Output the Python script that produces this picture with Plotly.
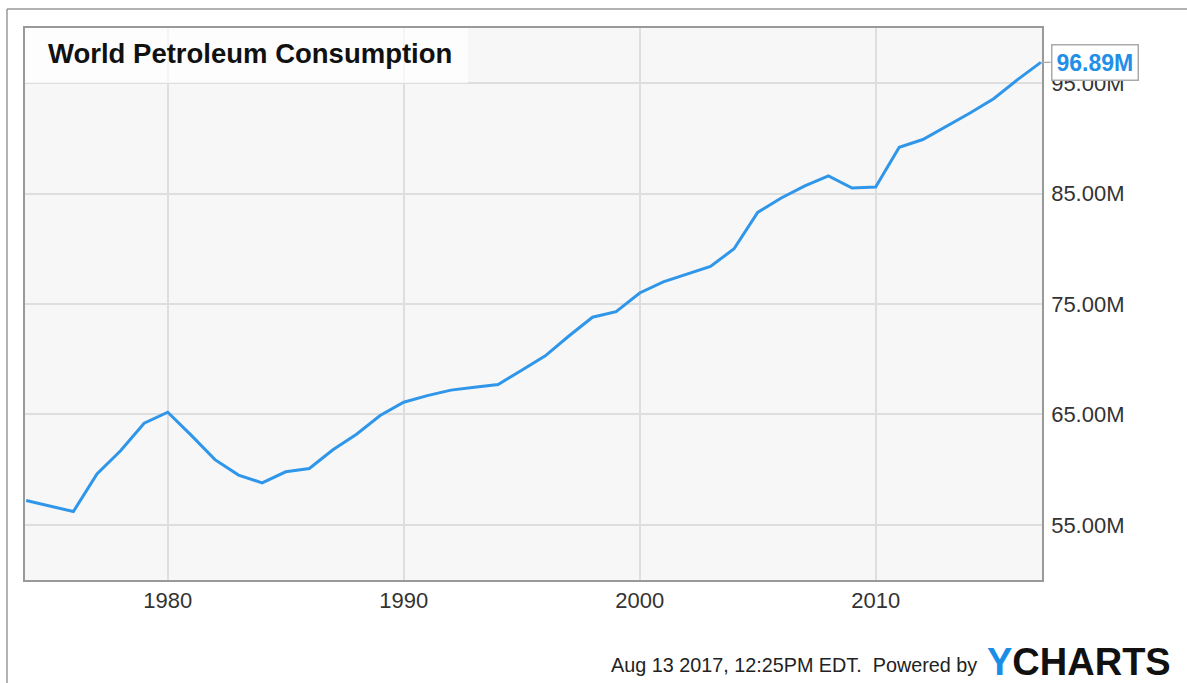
import plotly.graph_objects as go

years = list(range(1974, 2018))
consumption_m = [57.2, 56.7, 56.2, 59.6, 61.7, 64.2, 65.2, 63.1, 60.9, 59.5,
                 58.8, 59.8, 60.1, 61.8, 63.2, 64.9, 66.1, 66.7, 67.2, 67.45,
                 67.7, 69.0, 70.3, 72.1, 73.8, 74.3, 76.0, 77.0, 77.7, 78.4,
                 80.0, 83.3, 84.6, 85.7, 86.6, 85.5, 85.6, 89.2, 89.9, 91.1,
                 92.3, 93.6, 95.3, 96.89]
x_ticks = [1980, 1990, 2000, 2010]
y_ticks = [55, 65, 75, 85, 95]
y_tick_labels = ["55.00M", "65.00M", "75.00M", "85.00M", "95.00M"]
title_text = "World Petroleum Consumption"
footer_text = "Aug 13 2017, 12:25PM EDT.  Powered by"

FONT = "Liberation Sans, Arial, sans-serif"
LINE_COLOR = "#2f96ea"

fig = go.Figure()
fig.add_trace(go.Scatter(
    x=years, y=consumption_m, mode="lines",
    line=dict(color=LINE_COLOR, width=3),
    hoverinfo="skip", showlegend=False,
))

fig.update_layout(
    width=1187, height=683,
    margin=dict(l=25, r=145, t=28, b=103),
    paper_bgcolor="white",
    plot_bgcolor="#f7f7f7",
    font=dict(family=FONT, color="#333"),
    xaxis=dict(
        range=[1973.95, 2017.05],
        tickvals=x_ticks,
        showgrid=True, gridcolor="#dedede", gridwidth=1.5,
        zeroline=False,
        showline=True, linecolor="#999", linewidth=1.5, mirror=True,
        ticks="", tickfont=dict(size=22, color="#333"),
    ),
    yaxis=dict(
        range=[50, 100],
        side="right",
        tickvals=y_ticks, ticktext=y_tick_labels,
        showgrid=True, gridcolor="#dedede", gridwidth=1.5,
        zeroline=False,
        showline=True, linecolor="#999", linewidth=1.5, mirror=True,
        ticks="", tickfont=dict(size=22, color="#333"),
        ticklabelstandoff=3,
    ),
)

# title box + title
fig.add_shape(type="rect", xref="paper", yref="paper",
              x0=0, x1=0.4356, y0=0.9004, y1=1.0,
              fillcolor="rgba(255,255,255,0.7)", line=dict(width=0), layer="above")
fig.add_annotation(xref="paper", yref="paper", x=0.0206, y=0.9547,
                   xanchor="left", yanchor="middle", showarrow=False,
                   text="<b>" + title_text + "</b>",
                   font=dict(family=FONT, size=27.5, color="#111"))

# last value callout
fig.add_annotation(x=years[-1], y=consumption_m[-1], xref="x", yref="y",
                   text="<b>%.2fM</b>" % consumption_m[-1],
                   showarrow=True, arrowhead=0, arrowwidth=1.2, arrowcolor="#aaa",
                   ax=10, ay=0, xanchor="left", yanchor="middle",
                   bgcolor="white", bordercolor="#aaa", borderwidth=1.5, borderpad=4,
                   font=dict(family=FONT, size=23, color="#1f8fe8"))

# outer border (top and left)
fig.add_shape(type="line", xref="paper", yref="paper",
              x0=-0.0177, x1=1.15, y0=1.0344, y1=1.0344,
              line=dict(color="#999", width=1.5))
fig.add_shape(type="line", xref="paper", yref="paper",
              x0=-0.0177, x1=-0.0177, y0=1.0344, y1=-0.19,
              line=dict(color="#999", width=1.5))

# footer
fig.add_annotation(xref="paper", yref="paper", x=0.938, y=-0.154,
                   xanchor="right", yanchor="middle", showarrow=False,
                   text=footer_text,
                   font=dict(family=FONT, size=19.8, color="#222"))
fig.add_annotation(xref="paper", yref="paper", x=0.944, y=-0.149,
                   xanchor="left", yanchor="middle", showarrow=False,
                   text='<b><span style="color:#1a8ee6">Y</span>CHARTS</b>',
                   font=dict(family=FONT, size=38, color="#111"))

fig.write_html("out.html", config={"displayModeBar": False},
               post_script="document.body.style.margin='0';document.body.style.overflow='hidden';")
